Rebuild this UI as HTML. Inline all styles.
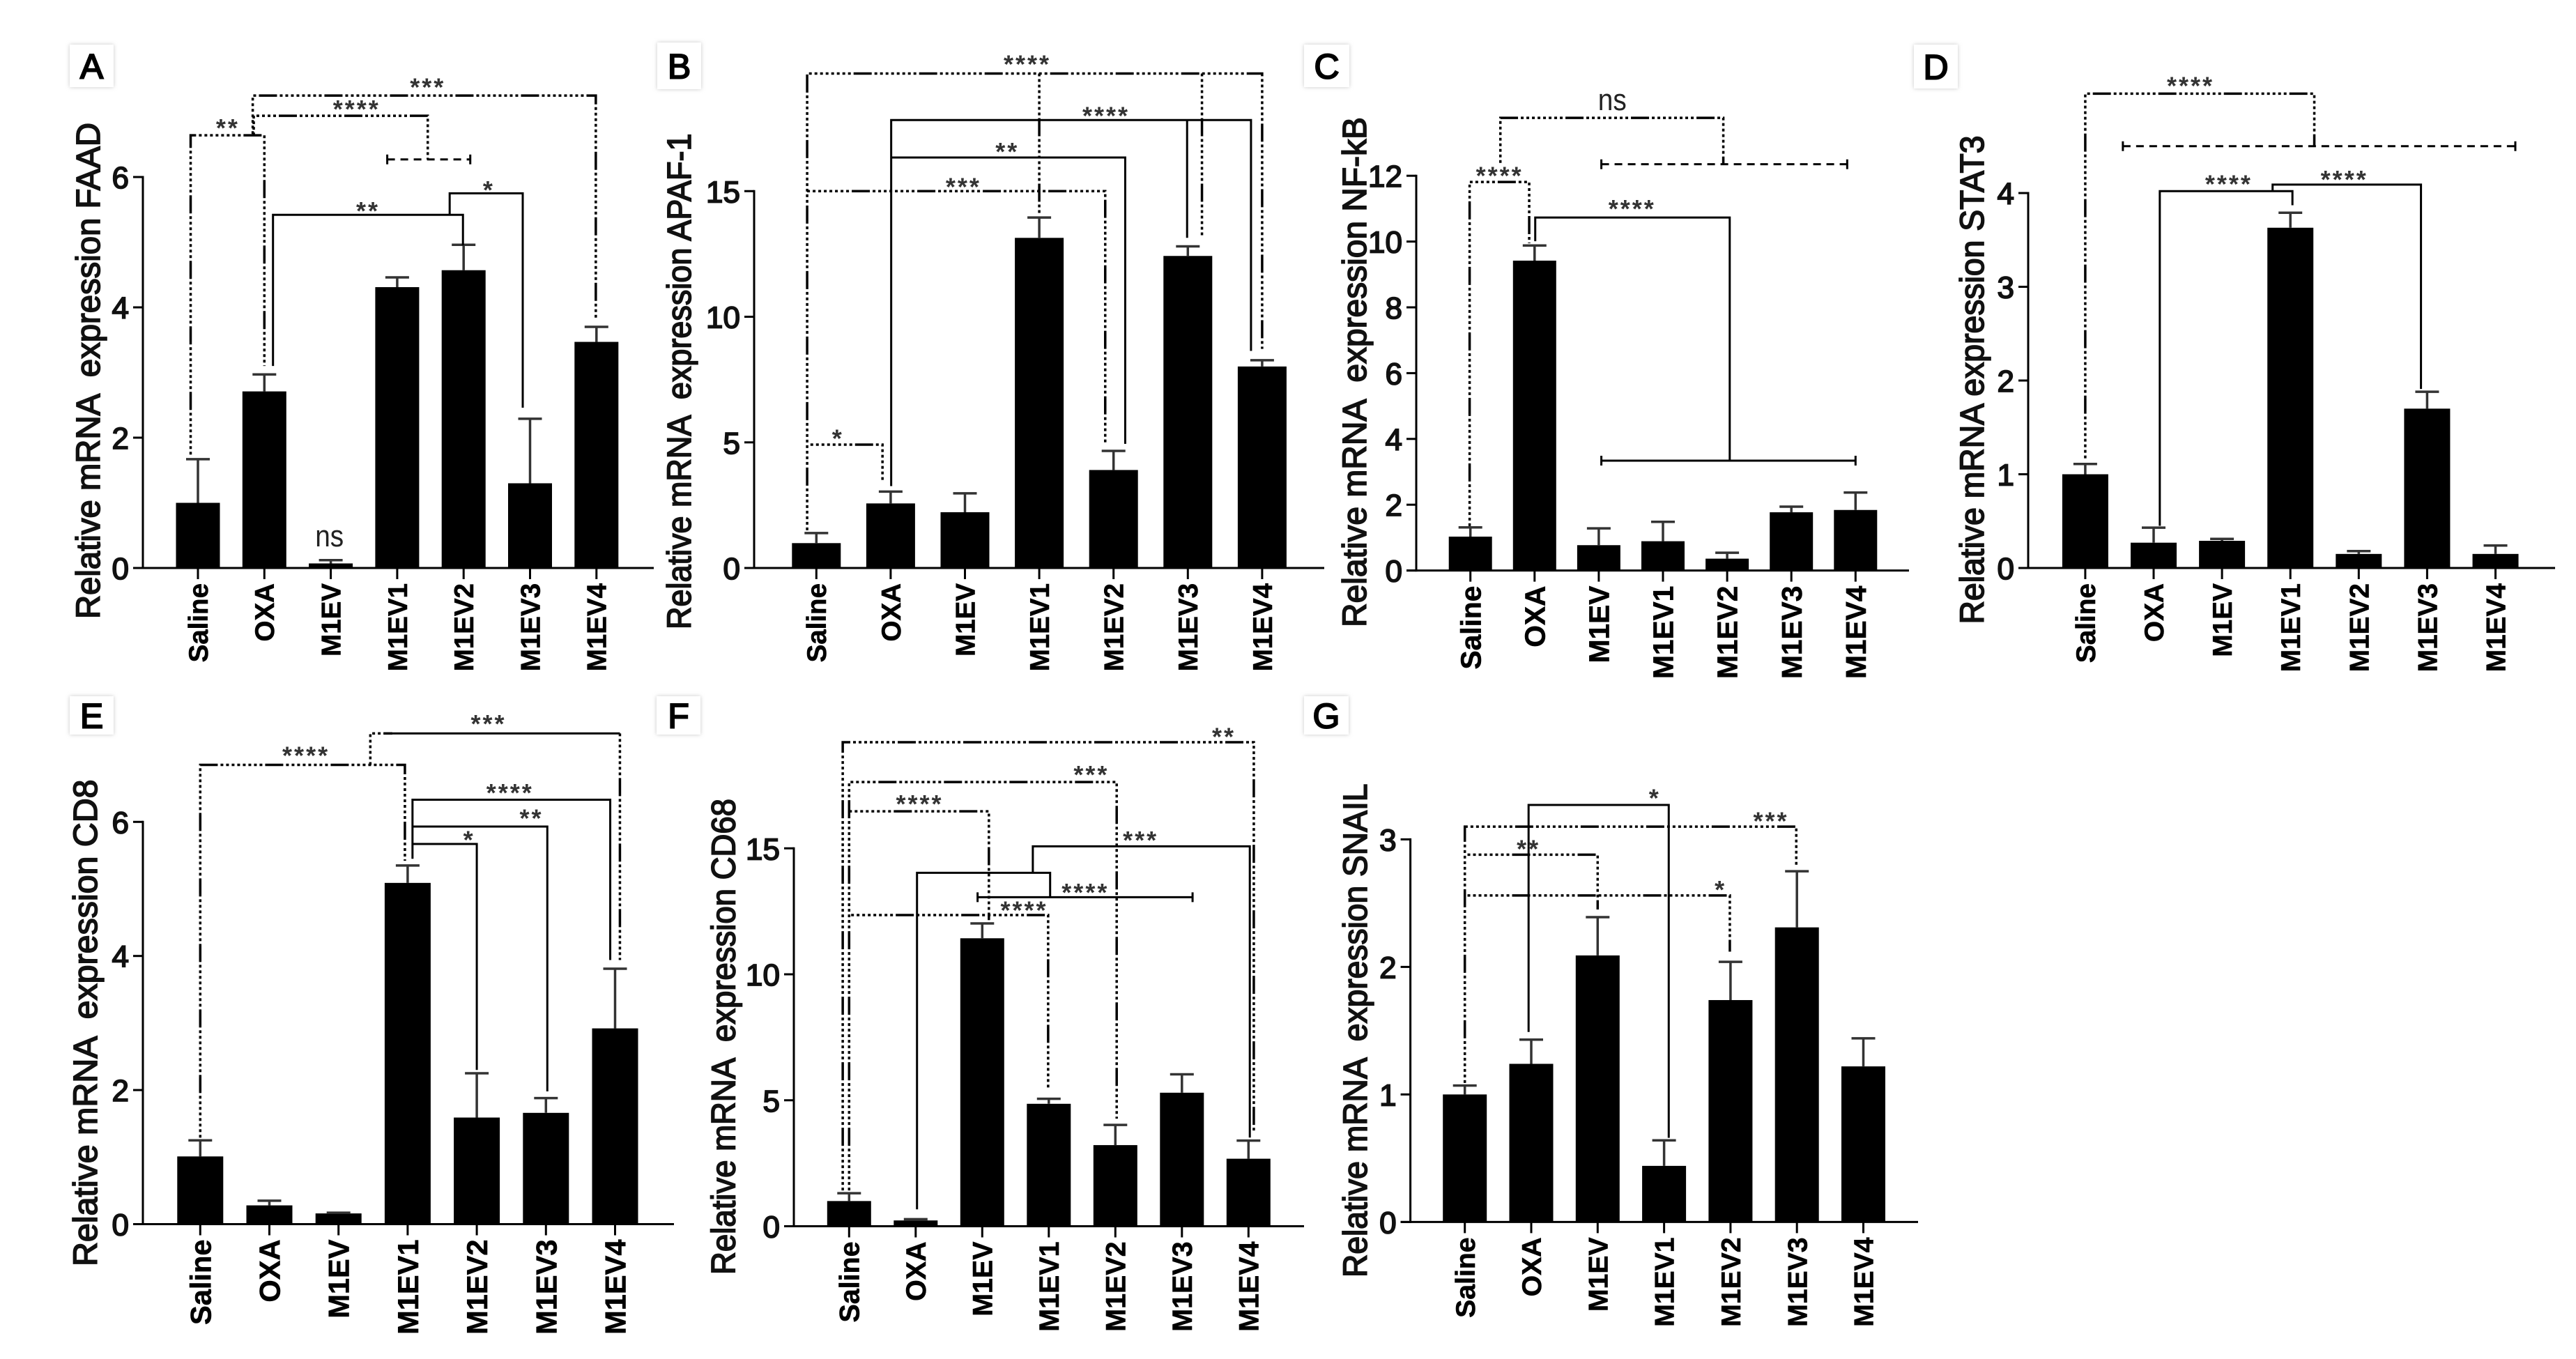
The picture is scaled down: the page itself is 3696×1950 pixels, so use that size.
<!DOCTYPE html>
<html lang="en">
<head>
<meta charset="utf-8">
<title>Relative mRNA expression bar charts</title>
<style>
html,body{margin:0;padding:0;background:#fff;}
#figure{display:block;width:3696px;height:1950px;background:#fff;}
text{font-family:"Liberation Sans",Arial,sans-serif;white-space:pre;}
</style>
</head>
<body>
<svg id="figure" xmlns="http://www.w3.org/2000/svg" width="3696" height="1950" viewBox="0 0 3696 1950">
<defs>
<filter id="soft" x="-20%" y="-20%" width="140%" height="140%"><feGaussianBlur stdDeviation="3"/></filter>
</defs>
</svg>
<script>
const categories = ['Saline','OXA','M1EV','M1EV1','M1EV2','M1EV3','M1EV4'];

const valuesA = [1.00,2.71,0.07,4.31,4.57,1.30,3.47];
const errorsA = [1.67,2.97,0.12,4.46,4.96,2.29,3.70];
const ticksA = [0,2,4,6];

const valuesB = [0.99,2.57,2.22,13.14,3.90,12.42,8.02];
const errorsB = [1.39,3.04,2.97,13.95,4.66,12.80,8.27];
const ticksB = [0,5,10,15];

const valuesC = [1.03,9.42,0.77,0.89,0.36,1.77,1.84];
const errorsC = [1.31,9.88,1.28,1.48,0.54,1.94,2.37];
const ticksC = [0,2,4,6,8,10,12];

const valuesD = [1.00,0.27,0.29,3.63,0.15,1.70,0.15];
const errorsD = [1.11,0.43,0.31,3.79,0.18,1.88,0.24];
const ticksD = [0,1,2,3,4];

const valuesE = [1.01,0.28,0.16,5.09,1.59,1.66,2.92];
const errorsE = [1.25,0.35,0.17,5.35,2.25,1.88,3.81];
const ticksE = [0,2,4,6];

const valuesF = [1.00,0.23,11.43,4.86,3.22,5.30,2.68];
const errorsF = [1.31,0.28,12.02,5.06,4.02,6.03,3.40];
const ticksF = [0,5,10,15];

const valuesG = [1.00,1.24,2.09,0.44,1.74,2.31,1.22];
const errorsG = [1.07,1.43,2.39,0.64,2.04,2.75,1.44];
const ticksG = [0,1,2,3];

/* Significance brackets, in axis units: [category position, value] */
const bracketsA = [
  {kind:'dotted',pts:[[-0.11,1.74],[-0.11,6.64],[1,6.64],[1,3.10]]},
  {kind:'dotted',pts:[[0.84,6.64],[0.84,6.94],[3.46,6.94],[3.46,6.27]]},
  {kind:'dashed',caps:true,pts:[[2.85,6.27],[4.10,6.27]]},
  {kind:'dotted',pts:[[0.825,6.66],[0.825,7.25],[5.99,7.25],[5.99,3.82]]},
  {kind:'solid',pts:[[1.13,3.10],[1.13,5.42],[3.99,5.42],[3.99,4.95]]},
  {kind:'solid',pts:[[3.79,5.42],[3.79,5.75],[4.89,5.75],[4.89,2.46]]}
];
const marksA = [['**',0.45,6.80],['****',2.39,7.09],['***',3.46,7.43],['**',2.56,5.53],['*',4.38,5.85],['ns',1.98,0.48]];

const bracketsB = [
  {kind:'dotted',pts:[[-0.124,1.5],[-0.124,19.68],[6,19.68],[6,8.72]]},
  {kind:'dotted',pts:[[3,19.68],[3,14.1]]},
  {kind:'dotted',pts:[[5.19,19.68],[5.19,13.18]]},
  {kind:'dotted',pts:[[-0.08,4.91],[0.89,4.91],[0.89,3.43]]},
  {kind:'solid',pts:[[1.007,3.26],[1.007,17.83],[5.85,17.83],[5.85,8.64]]},
  {kind:'solid',pts:[[4.99,17.83],[4.99,13.14]]},
  {kind:'solid',pts:[[1.007,16.34],[4.157,16.34],[4.157,4.94]]},
  {kind:'dotted',pts:[[-0.124,15],[3.888,15],[3.888,4.94]]}
];
const marksB = [['****',2.84,20.18],['****',3.90,18.13],['**',2.57,16.70],['***',1.98,15.30],['*',0.29,5.28]];

const bracketsC = [
  {kind:'dotted',pts:[[0.467,12.39],[0.467,13.76],[3.94,13.76],[3.94,12.36]]},
  {kind:'dashed',caps:true,pts:[[2.04,12.35],[5.87,12.35]]},
  {kind:'dotted',pts:[[-0.012,1.35],[-0.012,11.81],[0.916,11.81],[0.916,9.95]]},
  {kind:'solid',pts:[[1.01,10.01],[1.01,10.73],[4.04,10.73],[4.04,3.34]]},
  {kind:'solid',caps:true,pts:[[2.04,3.34],[6,3.34]]}
];
const marksC = [['****',0.455,12.10],['ns',2.21,14.29],['****',2.52,11.09]];

const bracketsD = [
  {kind:'dotted',pts:[[0,1.17],[0,5.06],[3.35,5.06],[3.35,4.5]]},
  {kind:'dashed',caps:true,pts:[[0.55,4.5],[6.29,4.5]]},
  {kind:'solid',pts:[[1.09,0.45],[1.09,4.02],[3.03,4.02],[3.03,3.87]]},
  {kind:'solid',pts:[[2.74,4.02],[2.74,4.09],[4.91,4.09],[4.91,1.91]]}
];
const marksD = [['****',1.54,5.18],['****',2.10,4.13],['****',3.79,4.18]];

const bracketsE = [
  {kind:'dotted',pts:[[0,1.29],[0,6.85],[2.96,6.85],[2.96,5.42]]},
  {kind:'dotted',pts:[[2.46,6.85],[2.46,7.32],[2.78,7.32]]},
  {kind:'solid',pts:[[2.78,7.32],[6.07,7.32]]},
  {kind:'dotted',pts:[[6.07,7.32],[6.07,3.94]]},
  {kind:'solid',pts:[[3.07,5.45],[3.07,6.33],[5.93,6.33],[5.93,3.94]]},
  {kind:'solid',pts:[[3.07,5.93],[5.02,5.93],[5.02,1.98]]},
  {kind:'solid',pts:[[3.07,5.67],[4,5.67],[4,2.30]]}
];
const marksE = [['****',1.53,7.04],['***',4.17,7.51],['****',4.48,6.48],['**',4.79,6.10],['*',3.89,5.78]];

const bracketsF = [
  {kind:'dotted',pts:[[-0.096,1.42],[-0.096,19.21],[6.08,19.21],[6.08,3.69]]},
  {kind:'dotted',pts:[[0,1.42],[0,17.63],[4.02,17.63],[4.02,4.27]]},
  {kind:'dotted',pts:[[0,16.47],[2.10,16.47],[2.10,12.15]]},
  {kind:'dotted',pts:[[0.03,12.35],[2.99,12.35],[2.99,5.45]]},
  {kind:'solid',pts:[[1.02,0.67],[1.02,14.03],[3.02,14.03],[3.02,13.07]]},
  {kind:'solid',pts:[[2.76,14.03],[2.76,15.08],[6.02,15.08],[6.02,3.52]]},
  {kind:'solid',caps:true,pts:[[1.93,13.06],[5.16,13.06]]}
];
const marksF = [['**',5.63,19.56],['***',3.64,18.05],['****',1.06,16.89],['***',4.38,15.45],['****',3.55,13.37],['****',2.63,12.67]];

const bracketsG = [
  {kind:'dotted',pts:[[0,1.09],[0,3.10],[4.99,3.10],[4.99,2.80]]},
  {kind:'dotted',pts:[[0.04,2.88],[2,2.88],[2,2.45]]},
  {kind:'dotted',pts:[[0.04,2.56],[3.99,2.56],[3.99,2.12]]},
  {kind:'solid',pts:[[0.96,1.49],[0.96,3.27],[3.07,3.27],[3.07,0.66]]}
];
const marksG = [['*',2.86,3.35],['***',4.61,3.17],['**',0.96,2.95],['*',3.85,2.63]];

/* Per-panel layout (pixels) */
const panels = [
  {id:'a',letter:'A',title:'Relative mRNA  expression FAAD',titleX:126,titleTop:176,titleBottom:888,
   axisX:205,y0:815,unit:93.5,cat0:284,step:95.3,barW:63,axisEnd:938,labelSize:38.5,box:[100,64,63,61],
   values:valuesA,errors:errorsA,ticks:ticksA,brackets:bracketsA,marks:marksA},
  {id:'b',letter:'B',title:'Relative mRNA  expression APAF-1',titleX:974,titleTop:191.5,titleBottom:903,
   axisX:1082,y0:815,unit:36.05,cat0:1171.3,step:106.6,barW:70,axisEnd:1900,labelSize:38.5,box:[943,61,63,67],
   values:valuesB,errors:errorsB,ticks:ticksB,brackets:bracketsB,marks:marksB},
  {id:'c',letter:'C',title:'Relative mRNA  expression NF-kB',titleX:1943,titleTop:168,titleBottom:900,
   axisX:2032,y0:818.6,unit:47.2,cat0:2109.7,step:92.1,barW:62,axisEnd:2739,labelSize:40.7,box:[1871,64,65,61],
   values:valuesC,errors:errorsC,ticks:ticksC,brackets:bracketsC,marks:marksC},
  {id:'d',letter:'D',title:'Relative mRNA expression STAT3',titleX:2829,titleTop:194.5,titleBottom:895.5,
   axisX:2910,y0:815,unit:134.5,cat0:2991.9,step:98.1,barW:66,axisEnd:3666,labelSize:38.8,box:[2746,64,63,63],
   values:valuesD,errors:errorsD,ticks:ticksD,brackets:bracketsD,marks:marksD},
  {id:'e',letter:'E',title:'Relative mRNA  expression CD8',titleX:122,titleTop:1118.5,titleBottom:1817,
   axisX:205,y0:1756.5,unit:96.2,cat0:287.3,step:99.2,barW:66,axisEnd:967,labelSize:41.6,box:[100,999,63,55],
   values:valuesE,errors:errorsE,ticks:ticksE,brackets:bracketsE,marks:marksE},
  {id:'f',letter:'F',title:'Relative mRNA  expression CD68',titleX:1037.5,titleTop:1146,titleBottom:1829,
   axisX:1139,y0:1759.5,unit:36.15,cat0:1218.3,step:95.5,barW:63,axisEnd:1871,labelSize:39.4,box:[942,999,63,55],
   values:valuesF,errors:errorsF,ticks:ticksF,brackets:bracketsF,marks:marksF},
  {id:'g',letter:'G',title:'Relative mRNA  expression SNAIL',titleX:1944,titleTop:1124.5,titleBottom:1833,
   axisX:2023.6,y0:1753.4,unit:183,cat0:2101.7,step:95.3,barW:63,axisEnd:2752,labelSize:39.2,box:[1871,999,64,55],
   values:valuesG,errors:errorsG,ticks:ticksG,brackets:bracketsG,marks:marksG}
];

const NS = 'http://www.w3.org/2000/svg';
const root = document.getElementById('figure');

function make(tag, parent, props) {
  const el = document.createElementNS(NS, tag);
  for (const k in props) el.setAttribute(k, props[k]);
  parent.appendChild(el);
  return el;
}

const DOT_DASH = '4 4 4 4 4 4 4 4 4 4 4 4 4 4 4 4 26 4';

panels.forEach(function (p) {
  const xScale = function (i) { return p.cat0 + i * p.step; };
  const yScale = function (v) { return p.y0 - v * p.unit; };

  const g = make('g', root, {});
  
  

  /* panel letter badge */
  const shadow = make('rect', g, {x:p.box[0], y:p.box[1], width:p.box[2], height:p.box[3], fill:'#c8c8c8', filter:'url(#soft)'});
  
  
  const badge = make('rect', g, {x:p.box[0], y:p.box[1], width:p.box[2], height:p.box[3], fill:'#fff'});
  
  
  const letter = make('text', g, {x:p.box[0] + p.box[2] / 2, y:p.box[1] + p.box[3] / 2 + 18, 'text-anchor':'middle', 'font-size':50, fill:'#000', stroke:'#000', 'stroke-width':2});
  letter.textContent = p.letter;
  
  

  /* bars */
  p.values.forEach(function (v, i) {
    const bar = make('rect', g, {x:xScale(i) - p.barW / 2, y:yScale(v), width:p.barW, height:p.y0 - yScale(v), fill:'#000'});
    
    
  });

  /* error bars */
  p.errors.forEach(function (e, i) {
    const err = make('path', g, {
      d:'M' + xScale(i) + ' ' + yScale(p.values[i]) + 'V' + yScale(e) + 'M' + (xScale(i) - 17) + ' ' + yScale(e) + 'H' + (xScale(i) + 17),
      fill:'none', stroke:'#333', 'stroke-width':3.5});
    
    
  });

  /* axes */
  const top = yScale(p.ticks[p.ticks.length - 1]);
  const yAxis = make('line', g, {x1:p.axisX, x2:p.axisX, y1:top - 1.5, y2:p.y0 + 1.5, stroke:'#000', 'stroke-width':3});
  
  
  const xAxis = make('line', g, {x1:p.axisX - 14, x2:p.axisEnd, y1:p.y0, y2:p.y0, stroke:'#000', 'stroke-width':3});
  
  

  p.ticks.forEach(function (t) {
    const tick = make('line', g, {x1:p.axisX - 14, x2:p.axisX, y1:yScale(t), y2:yScale(t), stroke:'#000', 'stroke-width':3});
    
    
    const label = make('text', g, {x:p.axisX - 20, y:yScale(t) + 16, 'text-anchor':'end', 'font-size':44, fill:'#111', stroke:'#111', 'stroke-width':1.8});
    label.textContent = String(t);
    
    
  });

  categories.forEach(function (c, i) {
    const x = xScale(i);
    const tick = make('line', g, {x1:x, x2:x, y1:p.y0, y2:p.y0 + 16, stroke:'#000', 'stroke-width':3});
    
    
    const ly = p.y0 + 22;
    const label = make('text', g, {x:x + p.labelSize * 0.36, y:ly, 'text-anchor':'end', 'font-size':p.labelSize, 'font-weight':'bold', fill:'#000', stroke:'#000', 'stroke-width':0.6,
      transform:'rotate(-90 ' + (x + p.labelSize * 0.36) + ' ' + ly + ')'});
    label.textContent = c;
    
    
  });

  /* y-axis title */
  const tx = p.titleX + 17;
  const title = make('text', g, {x:tx, y:p.titleBottom, 'font-size':48, fill:'#111', stroke:'#111', 'stroke-width':1.7,
    textLength:p.titleBottom - p.titleTop, lengthAdjust:'spacingAndGlyphs', transform:'rotate(-90 ' + tx + ' ' + p.titleBottom + ')'});
  title.textContent = p.title;
  
  

  /* significance brackets */
  p.brackets.forEach(function (b, n) {
    const d = b.pts.map(function (pt, k) { return (k ? 'L' : 'M') + xScale(pt[0]) + ' ' + yScale(pt[1]); }).join('');
    const props = {d:d, fill:'none', stroke:'#000', 'stroke-width':b.kind === 'dotted' ? 3.5 : 3};
    if (b.kind === 'dotted') props['stroke-dasharray'] = DOT_DASH;
    if (b.kind === 'dashed') props['stroke-dasharray'] = '11 8';
    const line = make('path', g, props);
    
    
    if (b.caps) {
      b.pts.forEach(function (pt, k) {
        const cap = make('line', g, {x1:xScale(pt[0]), x2:xScale(pt[0]), y1:yScale(pt[1]) - 7, y2:yScale(pt[1]) + 7, stroke:'#000', 'stroke-width':3});
        
        
      });
    }
  });

  /* significance marks */
  p.marks.forEach(function (m, n) {
    const isNs = m[0] === 'ns';
    const props = isNs
      ? {x:xScale(m[1]), y:yScale(m[2]) + 14, 'text-anchor':'middle', 'font-size':44, fill:'#222', textLength:41, lengthAdjust:'spacingAndGlyphs'}
      : {x:xScale(m[1]), y:yScale(m[2]) + 17, 'text-anchor':'middle', 'font-size':36, fill:'#333', 'letter-spacing':'3px', 'font-weight':'bold'};
    const mark = make('text', g, props);
    mark.textContent = m[0];
    
    
  });
});
</script>
</body>
</html>
